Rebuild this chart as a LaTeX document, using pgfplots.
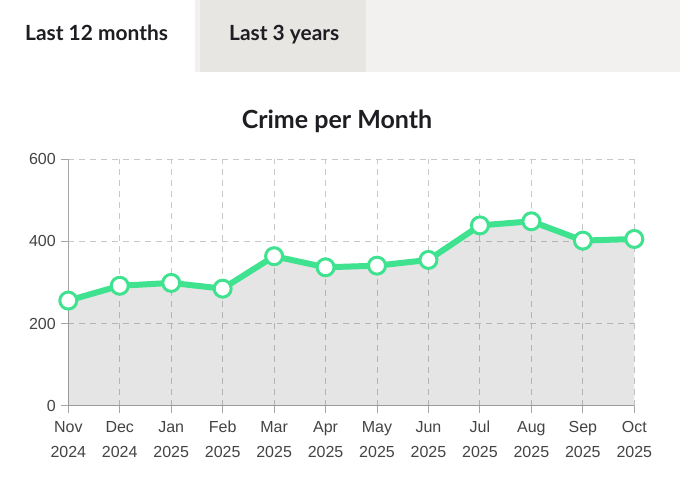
\documentclass[border=0pt]{standalone}
\usepackage{fontspec}
\setmainfont{Liberation Sans}
\newfontfamily\lato{Lato}
\usepackage{pgfplots}
\pgfplotsset{compat=1.18}
\definecolor{linegreen}{RGB}{62,226,143}
\definecolor{tabLight}{RGB}{242,241,239}
\definecolor{tabDark}{RGB}{232,230,227}
\definecolor{txt}{RGB}{30,30,34}
\definecolor{ticktxt}{RGB}{68,68,68}
\definecolor{gridc}{RGB}{200,200,200}
\definecolor{axc}{RGB}{165,165,165}
\newcommand{\ml}[2]{\strut #1\\\strut #2}
\pgfplotstableread{
x y
0 256
1 292
2 299
3 285
4 364
5 337
6 341
7 355
8 439
9 449
10 402
11 406
}\crimedata
\begin{document}
\begin{tikzpicture}
\path[use as bounding box, fill=white] (0pt,0pt) rectangle (680pt,489pt);
\fill[tabLight] (195pt,417pt) rectangle (680pt,489pt);
\fill[tabDark] (200pt,417pt) rectangle (366pt,489pt);
\node[anchor=base west, inner sep=0, text=txt, font=\lato\bfseries\fontsize{20.9}{24}\selectfont] at (25pt,448.3pt) {Last 12 months};
\node[anchor=base west, inner sep=0, text=txt, font=\lato\bfseries\fontsize{20.9}{24}\selectfont] at (229pt,448.3pt) {Last 3 years};
\node[anchor=base, inner sep=0, text=txt, font=\lato\bfseries\fontsize{25}{29}\selectfont] at (337pt,360.7pt) {Crime per Month};
\begin{axis}[
  at={(68.3pt,83.3pt)}, anchor=south west,
  scale only axis, width=566pt, height=246.4pt,
  xmin=0, xmax=11, ymin=0, ymax=600,
  axis x line*=bottom, axis y line*=left,
  axis line style={axc, line width=1pt},
  xtick={0,...,11}, ytick={0,200,400,600},
  xticklabels={{\ml{Nov}{2024}},{\ml{Dec}{2024}},{\ml{Jan}{2025}},{\ml{Feb}{2025}},{\ml{Mar}{2025}},{\ml{Apr}{2025}},{\ml{May}{2025}},{\ml{Jun}{2025}},{\ml{Jul}{2025}},{\ml{Aug}{2025}},{\ml{Sep}{2025}},{\ml{Oct}{2025}}},
  tick align=outside, major tick length=7pt,
  tick style={axc, line width=1pt},
  grid=major,
  major grid style={gridc, line width=1pt, dash pattern=on 6pt off 5pt},
  /pgf/number format/assume math mode=true,
  ticklabel style={font=\fontsize{16}{25}\selectfont, text=ticktxt},
  xticklabel style={align=center, anchor=north, yshift=1pt},
  yticklabel style={xshift=-2pt},
  clip=false,
]
\addplot[draw=none, fill=black, fill opacity=0.1] table[x=x,y=y] {\crimedata} \closedcycle;
\addplot[linegreen, line width=6pt, line join=round, mark=*, mark size=8.5pt,
  mark options={fill=white, draw=linegreen, line width=3pt}] table[x=x,y=y] {\crimedata};
\end{axis}
\end{tikzpicture}
\end{document}
